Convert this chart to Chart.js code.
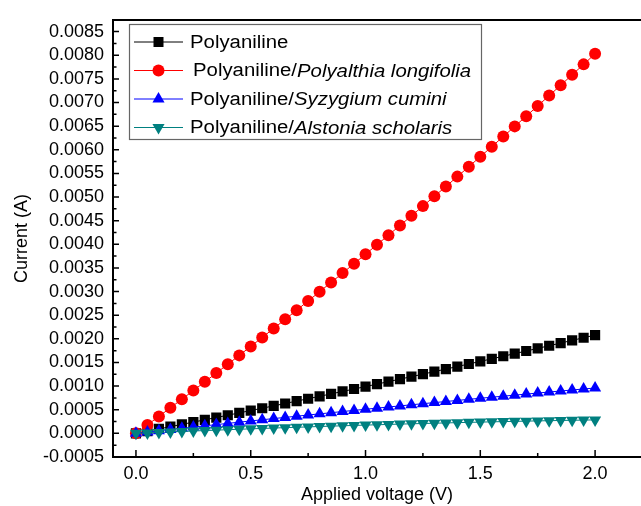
<!DOCTYPE html>
<html>
<head>
<meta charset="utf-8">
<title>I-V curves</title>
<script src="https://cdn.jsdelivr.net/npm/chart.js"></script>
<style>
    html, body { margin: 0; padding: 0; background: #fff; overflow: hidden; }
    #wrap { position: relative; width: 641px; height: 506px; }
</style>
</head>
<body>
<div id="wrap"><canvas id="ivChart" width="641" height="506"></canvas></div>
<script>
// applied voltage (V)
const voltage = [0, 0.05, 0.1, 0.15, 0.2, 0.25, 0.3, 0.35, 0.4, 0.45, 0.5, 0.55, 0.6, 0.65, 0.7, 0.75, 0.8, 0.85, 0.9, 0.95,
    1.0, 1.05, 1.1, 1.15, 1.2, 1.25, 1.3, 1.35, 1.4, 1.45, 1.5, 1.55, 1.6, 1.65, 1.7, 1.75, 1.8, 1.85, 1.9, 1.95, 2.0];

// current (A)
const polyaniline = [0, 0.0000471, 0.0000945, 0.000142, 0.000190, 0.000238, 0.000287, 0.000335, 0.000384, 0.000433,
    0.000483, 0.000532, 0.000582, 0.000632, 0.000683, 0.000733, 0.000784, 0.000835, 0.000887, 0.000938,
    0.000990, 0.001042, 0.001095, 0.001147, 0.001200, 0.001253, 0.001307, 0.001360, 0.001414, 0.001468,
    0.001523, 0.001577, 0.001632, 0.001687, 0.001743, 0.001798, 0.001854, 0.001910, 0.001967, 0.002023, 0.002080];
const longifolia = [0, 0.000179, 0.000359, 0.000540, 0.000722, 0.000905, 0.001090, 0.001275, 0.001462, 0.001650,
    0.001839, 0.002029, 0.002220, 0.002412, 0.002606, 0.002800, 0.002996, 0.003193, 0.003391, 0.003590,
    0.003790, 0.003991, 0.004194, 0.004397, 0.004602, 0.004808, 0.005015, 0.005223, 0.005432, 0.005642,
    0.005854, 0.006066, 0.006280, 0.006495, 0.006711, 0.006928, 0.007146, 0.007365, 0.007586, 0.007807, 0.008030];
const cumini = [0, 0.0000269, 0.0000537, 0.0000803, 0.000107, 0.000133, 0.000159, 0.000185, 0.000211, 0.000237,
    0.000263, 0.000288, 0.000313, 0.000338, 0.000363, 0.000388, 0.000413, 0.000437, 0.000462, 0.000486,
    0.000510, 0.000534, 0.000558, 0.000581, 0.000605, 0.000628, 0.000651, 0.000674, 0.000697, 0.000720,
    0.000743, 0.000765, 0.000787, 0.000809, 0.000831, 0.000853, 0.000875, 0.000896, 0.000918, 0.000939, 0.000960];
const scholaris = [0, 0.0000103, 0.0000204, 0.0000304, 0.0000402, 0.0000498, 0.0000593, 0.0000686, 0.0000778, 0.0000868,
    0.0000956, 0.000104, 0.000113, 0.000121, 0.000129, 0.000137, 0.000145, 0.000153, 0.000160, 0.000168,
    0.000175, 0.000182, 0.000189, 0.000196, 0.000202, 0.000209, 0.000215, 0.000221, 0.000227, 0.000233,
    0.000238, 0.000244, 0.000249, 0.000254, 0.000259, 0.000264, 0.000268, 0.000273, 0.000277, 0.000281, 0.000285];

const legendPlain = ["Polyaniline", "Polyaniline/", "Polyaniline/", "Polyaniline/"];
const legendItalic = ["", "Polyalthia longifolia", "Syzygium cumini", "Alstonia scholaris"];

const FONT = '"Liberation Sans", Arial, sans-serif';

function toPoints(arr) {
    return voltage.map(function(v, i) { return { x: v, y: arr[i] }; });
}

// Origin-style inward ticks on the left and bottom axes
const inwardTicks = {
    id: 'inwardTicks',
    beforeDatasetsDraw(chart) {
        const ctx = chart.ctx;
        const xs = chart.scales.x, ys = chart.scales.y;
        const area = chart.chartArea;
        ctx.save();
        ctx.strokeStyle = '#000';
        ctx.lineWidth = 1.5;
        ctx.beginPath();
        const yt = ys.ticks.map(t => t.value);
        yt.forEach(function(v, i) {
            const py = ys.getPixelForValue(v);
            ctx.moveTo(area.left, py); ctx.lineTo(area.left + 6, py);
            const mid = i < yt.length - 1 ? (v + yt[i + 1]) / 2 : v + (v - yt[i - 1]) / 2;
            if (mid <= ys.max) {
                const pm = ys.getPixelForValue(mid);
                ctx.moveTo(area.left, pm); ctx.lineTo(area.left + 3.5, pm);
            }
        });
        const xt = xs.ticks.map(t => t.value);
        xt.forEach(function(v, i) {
            const px = xs.getPixelForValue(v);
            ctx.moveTo(px, area.bottom); ctx.lineTo(px, area.bottom - 7);
            if (i < xt.length - 1) {
                const pm = xs.getPixelForValue((v + xt[i + 1]) / 2);
                ctx.moveTo(pm, area.bottom); ctx.lineTo(pm, area.bottom - 4);
            }
        });
        ctx.stroke();
        ctx.restore();
    }
};

function drawMarker(ctx, kind, color, x, y) {
    ctx.fillStyle = color;
    ctx.beginPath();
    if (kind === 'rect') {
        ctx.rect(x - 5, y - 5, 10, 10);
    } else if (kind === 'circle') {
        ctx.arc(x, y, 6, 0, Math.PI * 2);
    } else if (kind === 'up') {
        ctx.moveTo(x, y - 7); ctx.lineTo(x + 6.06, y + 3.5); ctx.lineTo(x - 6.06, y + 3.5);
    } else {
        ctx.moveTo(x, y + 7); ctx.lineTo(x + 6.06, y - 3.5); ctx.lineTo(x - 6.06, y - 3.5);
    }
    ctx.closePath();
    ctx.fill();
}

// legend with italic species names
const boxLegend = {
    id: 'boxLegend',
    afterDraw(chart) {
        const ctx = chart.ctx;
        const rows = [42, 70.5, 99, 127.5];
        const textX = [190, 193, 190, 190];
        const kinds = ['rect', 'circle', 'up', 'down'];
        ctx.save();
        ctx.strokeStyle = '#666';
        ctx.lineWidth = 1.2;
        ctx.strokeRect(129.5, 24.5, 352, 115);
        chart.data.datasets.forEach(function(ds, i) {
            const y = rows[i];
            ctx.strokeStyle = ds.borderColor;
            ctx.lineWidth = 1;
            ctx.beginPath();
            ctx.moveTo(134, y); ctx.lineTo(183, y);
            ctx.stroke();
            drawMarker(ctx, kinds[i], ds.borderColor, 158.5, y);

            ctx.save();
            ctx.translate(textX[i], y + 1);
            ctx.scale(1.13, 1);
            ctx.fillStyle = '#000';
            ctx.textBaseline = 'middle';
            ctx.font = '18px ' + FONT;
            ctx.fillText(legendPlain[i], 0, 0);
            const w = ctx.measureText(legendPlain[i]).width;
            ctx.font = 'italic 18px ' + FONT;
            ctx.fillText(legendItalic[i], w, 0);
            ctx.restore();
        });
        ctx.restore();
    }
};

document.addEventListener("DOMContentLoaded", function() {
    const ctx = document.getElementById('ivChart').getContext('2d');

    new Chart(ctx, {
        type: 'line',
        data: {
            datasets: [{
                label: legendPlain[0],
                data: toPoints(polyaniline),
                borderColor: '#000000',
                backgroundColor: '#000000',
                pointStyle: 'rect',
                pointRadius: 7.2,
                order: 3
            }, {
                label: legendPlain[1] + legendItalic[1],
                data: toPoints(longifolia),
                borderColor: '#ff0000',
                backgroundColor: '#ff0000',
                pointStyle: 'circle',
                pointRadius: 6,
                order: 2
            }, {
                label: legendPlain[2] + legendItalic[2],
                data: toPoints(cumini),
                borderColor: '#0000ff',
                backgroundColor: '#0000ff',
                pointStyle: 'triangle',
                pointRadius: 7,
                order: 1
            }, {
                label: legendPlain[3] + legendItalic[3],
                data: toPoints(scholaris),
                borderColor: '#008080',
                backgroundColor: '#008080',
                pointStyle: 'triangle',
                pointRotation: 180,
                pointRadius: 7,
                order: 0
            }]
        },
        options: {
            responsive: false,
            animation: false,
            layout: { autoPadding: false, padding: { top: 13, right: 0, bottom: 0, left: 0 } },
            elements: {
                line: { borderWidth: 1, tension: 0 },
                point: { borderWidth: 0, hoverRadius: 0 }
            },
            plugins: {
                legend: { display: false },
                tooltip: { enabled: false }
            },
            scales: {
                x: {
                    type: 'linear',
                    position: 'bottom',
                    min: -0.1,
                    max: 2.2,
                    ticks: {
                        stepSize: 0.5,
                        includeBounds: false,
                        autoSkip: false,
                        maxRotation: 0,
                        padding: 6,
                        color: '#000',
                        font: { family: FONT, size: 18 },
                        callback: v => v.toFixed(1)
                    },
                    grid: { display: true, drawOnChartArea: false, drawTicks: false },
                    border: { color: '#000', width: 2 },
                    title: {
                        display: true,
                        text: 'Applied voltage (V)',
                        color: '#000',
                        font: { family: FONT, size: 18 },
                        padding: { top: 0, bottom: 0 }
                    },
                    afterFit: s => { s.height = 49; }
                },
                xTop: {
                    type: 'linear',
                    position: 'top',
                    min: -0.1,
                    max: 2.2,
                    ticks: { display: false },
                    grid: { display: true, drawOnChartArea: false, drawTicks: false },
                    border: { color: '#000', width: 2 },
                    afterFit: s => { s.height = 0; }
                },
                y: {
                    min: -0.0005,
                    max: 0.00875,
                    ticks: {
                        stepSize: 0.0005,
                        includeBounds: false,
                        autoSkip: false,
                        padding: 9,
                        color: '#000',
                        font: { family: FONT, size: 18 },
                        callback: v => v.toFixed(4)
                    },
                    grid: { display: true, drawOnChartArea: false, drawTicks: false },
                    border: { color: '#000', width: 2 },
                    title: {
                        display: true,
                        text: 'Current (A)',
                        color: '#000',
                        font: { family: FONT, size: 18 },
                        padding: { top: 11, bottom: 0 }
                    },
                    afterFit: s => { s.width = 113; }
                }
            }
        },
        plugins: [inwardTicks, boxLegend]
    });
});
</script>
</body>
</html>
